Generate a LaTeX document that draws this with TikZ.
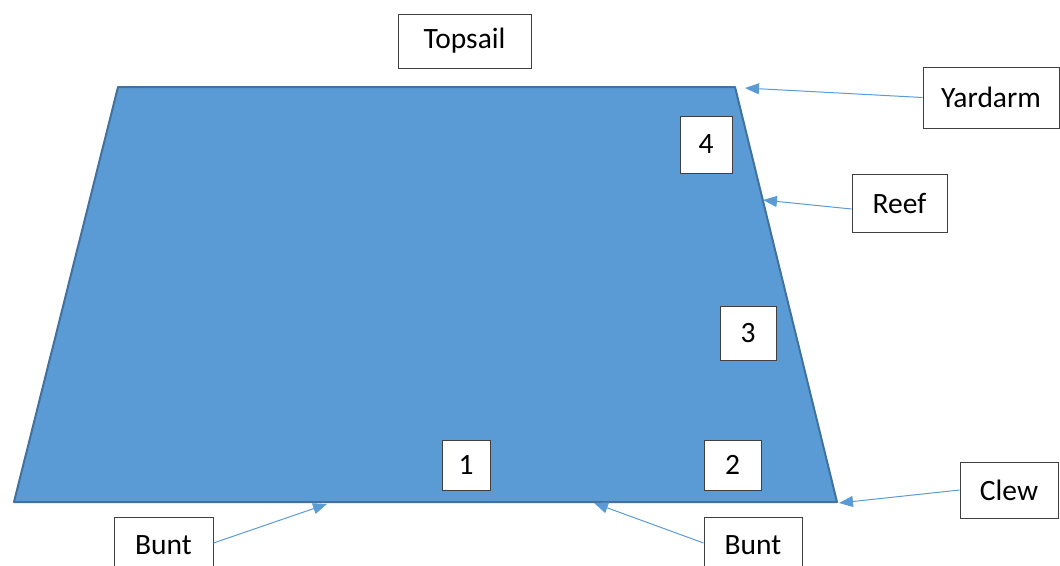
\documentclass[tikz,border=0pt]{standalone}
\usepackage{fontspec}
\setmainfont{Carlito}
\usetikzlibrary{arrows.meta}
\definecolor{sailfill}{HTML}{5B9BD5}
\definecolor{sailedge}{HTML}{41719C}
\definecolor{boxedge}{HTML}{404040}
\begin{document}
\begin{tikzpicture}[x=1pt,y=-1pt,
  lbl/.style={draw=boxedge,line width=1pt,fill=white,inner sep=0pt,
    font=\fontsize{29.5}{34}\selectfont,text=black},
  pointer/.style={draw=sailfill,line width=1pt,-{Triangle[length=14pt,width=11pt]}}]
\useasboundingbox (0,0) rectangle (1060,565);
\clip (0,0) rectangle (1060,565);
% sail
\filldraw[fill=sailfill,draw=sailedge,line width=2pt,line join=round]
  (118,87) -- (735,87) -- (837,502) -- (14,502) -- cycle;
% labels
\node[lbl,minimum width=133pt,minimum height=54pt] (topsail) at (464.5,41) {Topsail};
\node[lbl,minimum width=136pt,minimum height=61pt] (yardarm) at (991,97.5) {Yardarm};
\node[lbl,minimum width=52pt,minimum height=57pt] (n4) at (706,144.5) {4};
\node[lbl,minimum width=95pt,minimum height=58pt] (reef) at (899.5,203) {Reef};
\node[lbl,minimum width=56pt,minimum height=54pt] (n3) at (748,333) {3};
\node[lbl,minimum width=48pt,minimum height=50pt] (n1) at (466,465) {1};
\node[lbl,minimum width=57pt,minimum height=50pt] (n2) at (732.5,465) {2};
\node[lbl,minimum width=98pt,minimum height=56pt] (clew) at (1009,490) {Clew};
\node[lbl,minimum width=99pt,minimum height=56pt] (buntL) at (163.5,545) {Bunt};
\node[lbl,minimum width=98pt,minimum height=56pt] (buntR) at (753,545) {Bunt};
% arrow targets
\coordinate (tYard) at (745,88);
\coordinate (tReef) at (763,200);
\coordinate (tClew) at (839,503);
\coordinate (tBuntL) at (327,504);
\coordinate (tBuntR) at (594,503);
% pointers
\draw[pointer] (yardarm.west) -- (tYard);
\draw[pointer] ([yshift=-6pt]reef.west) -- (tReef);
\draw[pointer] (clew.west) -- (tClew);
\draw[pointer] ([yshift=2pt]buntL.east) -- (tBuntL);
\draw[pointer] ([yshift=2pt]buntR.west) -- (tBuntR);
\end{tikzpicture}
\end{document}
